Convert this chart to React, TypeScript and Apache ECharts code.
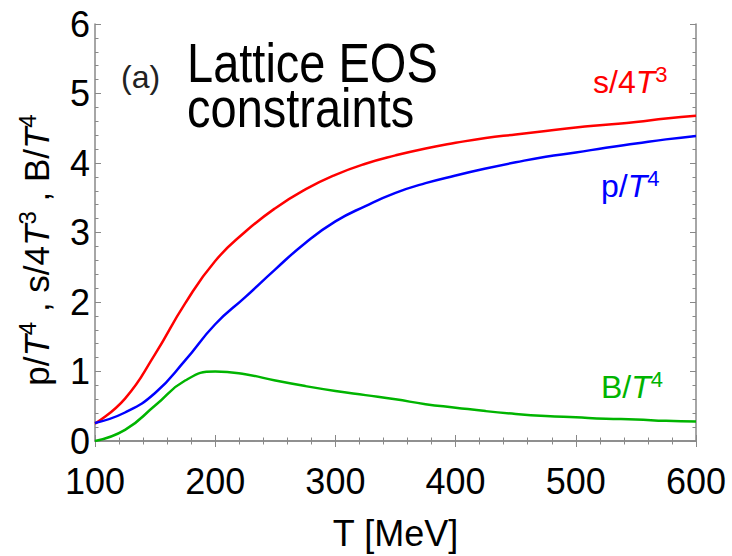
import React, { useEffect, useRef } from "react";
import * as echarts from "echarts";

const temps = [100, 125, 150, 175, 200, 225, 250, 275, 300, 325, 350, 375, 400, 425, 450, 475, 500, 525, 550, 575, 600];
const entropy = [0.25, 0.61, 1.25, 1.98, 2.59, 3.01, 3.35, 3.62, 3.83, 3.99, 4.11, 4.21, 4.29, 4.36, 4.41, 4.46, 4.51, 4.55, 4.59, 4.64, 4.68];
const pressure = [0.26, 0.41, 0.69, 1.16, 1.68, 2.07, 2.47, 2.85, 3.16, 3.38, 3.57, 3.71, 3.82, 3.92, 4.01, 4.09, 4.15, 4.22, 4.28, 4.34, 4.39];
const bag = [0.0, 0.16, 0.51, 0.87, 1.0, 0.96, 0.87, 0.79, 0.72, 0.66, 0.6, 0.53, 0.48, 0.43, 0.39, 0.36, 0.34, 0.32, 0.31, 0.29, 0.28];
const xTicks = [100, 200, 300, 400, 500, 600];
const yTicks = [0, 1, 2, 3, 4, 5, 6];

const FONT = "Liberation Sans, Arial, sans-serif";
const RED = "#ff0000";
const BLUE = "#0000ff";
const GREEN = "#00b400";
const FRAME = "#888888";

function pairs(ys: number[]) {
  return temps.map((t, i) => [t, ys[i]]);
}

function supRich(color: string, size: number) {
  const sup = Math.round(size * 0.68);
  return {
    n: { fontSize: size, fill: color, fontFamily: FONT, lineHeight: size + 6, verticalAlign: "middle" },
    i: { fontSize: size, fill: color, fontFamily: FONT, fontStyle: "italic", lineHeight: size + 6, verticalAlign: "middle" },
    s: { fontSize: sup, fill: color, fontFamily: FONT, lineHeight: sup, verticalAlign: "top" },
  };
}

export default function App() {
  const ref = useRef<HTMLDivElement>(null);
  useEffect(() => {
    if (!ref.current) return;
    const chart = echarts.init(ref.current, undefined, { renderer: "svg" });
    const tickCommon = {
      axisLine: { show: true, lineStyle: { color: FRAME, width: 1.5 } },
      axisTick: { show: true, inside: true, length: 6, lineStyle: { color: FRAME, width: 1 } },
      minorTick: { show: true, splitNumber: 5, length: 3.5, lineStyle: { color: FRAME, width: 1 } },
      splitLine: { show: false },
      minorSplitLine: { show: false },
    };
    const xLabel = {
      show: true,
      fontSize: 36,
      color: "#000",
      fontFamily: FONT,
      margin: 22,
      formatter: (v: number) => (xTicks.includes(v) ? String(v) : ""),
    };
    const yLabel = {
      show: true,
      fontSize: 36,
      color: "#000",
      fontFamily: FONT,
      margin: 5,
      formatter: (v: number) => (yTicks.includes(v) ? String(v) : ""),
    };
    const lineSeries = (name: string, ys: number[], color: string) => ({
      name,
      type: "line",
      data: pairs(ys),
      smooth: 0.5,
      showSymbol: false,
      lineStyle: { color, width: 2.5 },
    });
    chart.setOption({
      animation: false,
      backgroundColor: "#ffffff",
      grid: { left: 95, right: 36, top: 24, bottom: 103, containLabel: false },
      xAxis: [
        {
          type: "value",
          min: 100,
          max: 600,
          interval: 100,
          position: "bottom",
          ...tickCommon,
          axisLabel: xLabel,
          name: "T [MeV]",
          nameLocation: "middle",
          nameGap: 74,
          nameTextStyle: { fontSize: 36, color: "#000", fontFamily: FONT },
        },
        {
          type: "value",
          min: 100,
          max: 600,
          interval: 100,
          position: "top",
          ...tickCommon,
          axisLabel: { show: false },
        },
      ],
      yAxis: [
        {
          type: "value",
          min: 0,
          max: 6,
          interval: 1,
          position: "left",
          ...tickCommon,
          axisLabel: yLabel,
        },
        {
          type: "value",
          min: 0,
          max: 6,
          interval: 1,
          position: "right",
          ...tickCommon,
          axisLabel: { show: false },
        },
      ],
      series: [
        lineSeries("s/4T3", entropy, RED),
        lineSeries("p/T4", pressure, BLUE),
        lineSeries("B/T4", bag, GREEN),
      ],
      graphic: [
        {
          type: "text",
          x: 121,
          y: 77,
          style: { text: "(a)", fontSize: 32, fill: "#222", fontFamily: FONT, verticalAlign: "middle" },
        },
        {
          type: "text",
          x: 187,
          y: 40,
          scaleY: 1.2,
          style: {
            text: "Lattice EOS\nconstraints",
            fontSize: 47,
            lineHeight: 37.5,
            fill: "#000",
            fontFamily: FONT,
          },
        },
        {
          type: "text",
          x: 593,
          y: 82,
          style: {
            text: "{n|s/4}{i|T}{s|3}",
            verticalAlign: "middle",
            rich: supRich(RED, 32),
          },
        },
        {
          type: "text",
          x: 601,
          y: 186,
          style: {
            text: "{n|p/}{i|T}{s|4}",
            verticalAlign: "middle",
            rich: supRich(BLUE, 32),
          },
        },
        {
          type: "text",
          x: 601,
          y: 387,
          style: {
            text: "{n|B/}{i|T}{s|4}",
            verticalAlign: "middle",
            rich: supRich(GREEN, 32),
          },
        },
        {
          type: "text",
          x: 36,
          y: 250,
          rotation: Math.PI / 2,
          style: {
            text: "{n|p/}{i|T}{s|4}{n| , s/4}{i|T}{s|3}{n| , B/}{i|T}{s|4}",
            align: "center",
            verticalAlign: "middle",
            rich: supRich("#000", 35),
          },
        },
      ],
    });
    return () => chart.dispose();
  }, []);
  return <div ref={ref} style={{ width: 732, height: 556, position: "absolute", left: 0, top: 0 }} />;
}
